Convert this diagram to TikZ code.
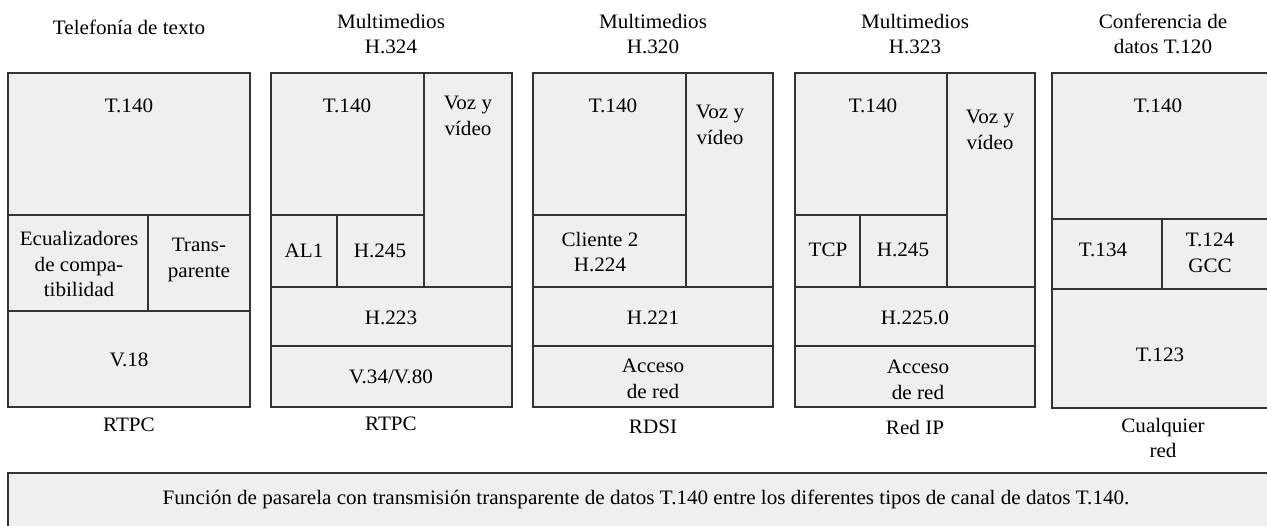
\documentclass[tikz,border=0pt]{standalone}
\usepackage{fontspec}
\setmainfont{Liberation Serif}[FakeStretch=1.03]
\usepackage{tikz}
\definecolor{layergray}{RGB}{239,239,239}
\tikzset{
  layer/.style={draw=black!80,fill=layergray,line width=1.3pt},
  lbl/.style={align=center,inner sep=0pt},
}

\begin{document}
\begin{tikzpicture}[x=1pt,y=-1pt,font=\fontsize{20.5}{25.5}\selectfont]
  \useasboundingbox (0,0) rectangle (1267,526);
  % headers
  \node[lbl] (hdtext) at (129,27) {Telefonía de texto};
  \node[lbl] (hdmmA) at (391,34) {Multimedios\\H.324};
  \node[lbl] (hdmmB) at (653,34) {Multimedios\\H.320};
  \node[lbl] (hdmmC) at (915,34) {Multimedios\\H.323};
  \node[lbl] (hdconf) at (1163,34) {Conferencia de\\datos T.120};
  % stack 1: text telephony over RTPC
  \draw[layer] (8,73) rectangle (250,215);
  \draw[layer] (8,215) rectangle (148,311);
  \draw[layer] (148,215) rectangle (250,311);
  \draw[layer] (8,311) rectangle (250,407);
  \node[lbl] (txtT) at (129,106) {T.140};
  \node[lbl] (txtecu) at (79,264) {Ecualizadores\\de compa-\\tibilidad};
  \node[lbl] (txttra) at (199,260) {Trans-\\parente};
  \node[lbl] (txtV) at (129,360) {V.18};
  % stack 2: H.324
  \draw[layer] (271,73) rectangle (424,215);
  \draw[layer] (424,73) rectangle (512,287);
  \draw[layer] (271,215) rectangle (337,287);
  \draw[layer] (337,215) rectangle (424,287);
  \draw[layer] (271,287) rectangle (512,346);
  \draw[layer] (271,346) rectangle (512,407);
  \node[lbl] (mmAT) at (347,106) {T.140};
  \node[lbl] (mmAvoz) at (468,116) {Voz y\\vídeo};
  \node[lbl] (mmAal) at (304,251) {AL1};
  \node[lbl] (mmAh) at (380,251) {H.245};
  \node[lbl] (mmAmux) at (391,318) {H.223};
  \node[lbl] (mmAmod) at (391,377) {V.34/V.80};
  % stack 3: H.320
  \draw[layer] (533,73) rectangle (686,215);
  \draw[layer] (686,73) rectangle (773,287);
  \draw[layer] (533,215) rectangle (686,287);
  \draw[layer] (533,287) rectangle (773,346);
  \draw[layer] (533,346) rectangle (773,407);
  \node[lbl] (mmBT) at (613,106) {T.140};
  \node[lbl] (mmBvoz) at (720,125) {Voz y\\vídeo};
  \node[lbl] (mmBcli) at (600,252) {Cliente 2\\H.224};
  \node[lbl] (mmBmux) at (653,318) {H.221};
  \node[lbl] (mmBacc) at (653,379) {Acceso\\de red};
  % stack 4: H.323
  \draw[layer] (795,73) rectangle (947,215);
  \draw[layer] (947,73) rectangle (1035,287);
  \draw[layer] (795,215) rectangle (860,287);
  \draw[layer] (860,215) rectangle (947,287);
  \draw[layer] (795,287) rectangle (1035,346);
  \draw[layer] (795,346) rectangle (1035,407);
  \node[lbl] (mmCT) at (873,106) {T.140};
  \node[lbl] (mmCvoz) at (990,130) {Voz y\\vídeo};
  \node[lbl] (mmCtcp) at (828,250) {TCP};
  \node[lbl] (mmCh) at (903,250) {H.245};
  \node[lbl] (mmCmux) at (915,318) {H.225.0};
  \node[lbl] (mmCacc) at (918,380) {Acceso\\de red};
  % stack 5: T.120 (runs past the right edge)
  \draw[layer] (1052,73) rectangle (1280,219);
  \draw[layer] (1052,219) rectangle (1162,289);
  \draw[layer] (1162,219) rectangle (1280,289);
  \draw[layer] (1052,289) rectangle (1280,408);
  \node[lbl] (confT) at (1158,106) {T.140};
  \node[lbl] (confA) at (1103,250) {T.134};
  \node[lbl] (confB) at (1210,253) {T.124\\GCC};
  \node[lbl] (confC) at (1160,355) {T.123};
  % networks
  \node[lbl] (netA) at (129,425) {RTPC};
  \node[lbl] (netB) at (391,424) {RTPC};
  \node[lbl] (netC) at (653,427) {RDSI};
  \node[lbl] (netD) at (915,427) {Red IP};
  \node[lbl] (netE) at (1163,438) {Cualquier\\red};
  % gateway box
  \draw[layer] (8,473) rectangle (1420,545);
  \node[lbl] (gw) at (646,499) {Función de pasarela con transmisión transparente de datos T.140 entre los diferentes tipos de canal de datos T.140.};
\end{tikzpicture}
\end{document}
